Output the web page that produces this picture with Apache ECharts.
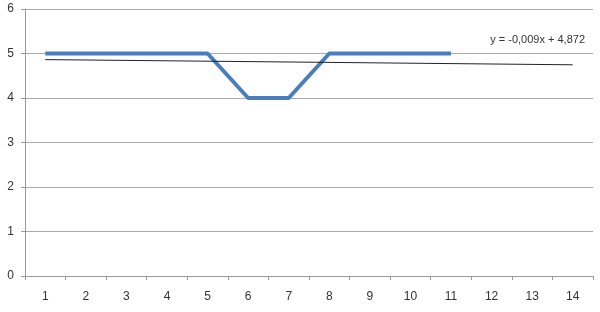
<!DOCTYPE html>
<html><head><meta charset="utf-8">
<script src="https://cdn.jsdelivr.net/npm/echarts@6/dist/echarts.min.js"></script>
<style>html,body{margin:0;padding:0;background:#fff}#c{width:600px;height:312px}</style>
</head><body><div id="c"></div>
<script>
var categories = ['1','2','3','4','5','6','7','8','9','10','11','12','13','14'];
var values = [5,5,5,5,5,4,4,5,5,5,5];
var trendPoints = [4.863, null, null, null, null, null, null, null, null, null, null, null, null, 4.746];
var trendLabel = 'y = -0,009x + 4,872';
var yTicks = [0,1,2,3,4,5,6];

var chart = echarts.init(document.getElementById('c'));
var font = 'Liberation Sans, Arial, sans-serif';
chart.setOption({
  animation: false,
  backgroundColor: '#fff',
  grid: {left: 25, right: 7, top: 9, bottom: 36, containLabel: false},
  xAxis: {
    type: 'category', data: categories, boundaryGap: true,
    axisLine: {lineStyle: {color: '#999', width: 1}},
    axisTick: {show: true, length: 4, lineStyle: {color: '#999'}},
    axisLabel: {color: '#333', fontSize: 12, fontFamily: font, margin: 15}
  },
  yAxis: {
    type: 'value', min: yTicks[0], max: yTicks[yTicks.length-1], interval: 1,
    axisLine: {show: true, lineStyle: {color: '#999'}},
    axisTick: {show: true, length: 4, lineStyle: {color: '#999'}},
    axisLabel: {color: '#333', fontSize: 12, fontFamily: font, margin: 11},
    splitLine: {lineStyle: {color: '#aaa', width: 1}}
  },
  graphic: [{
    type: 'text', right: 15, top: 34,
    style: {text: trendLabel, fill: '#333', font: '11px ' + font}
  }],
  series: [{
    type: 'line', data: values, symbol: 'none',
    lineStyle: {color: '#4A7EBB', width: 4}, z: 3
  }, {
    type: 'line', data: trendPoints, connectNulls: true, symbol: 'none',
    lineStyle: {color: '#222', width: 1}, z: 4
  }]
});
</script></body></html>
